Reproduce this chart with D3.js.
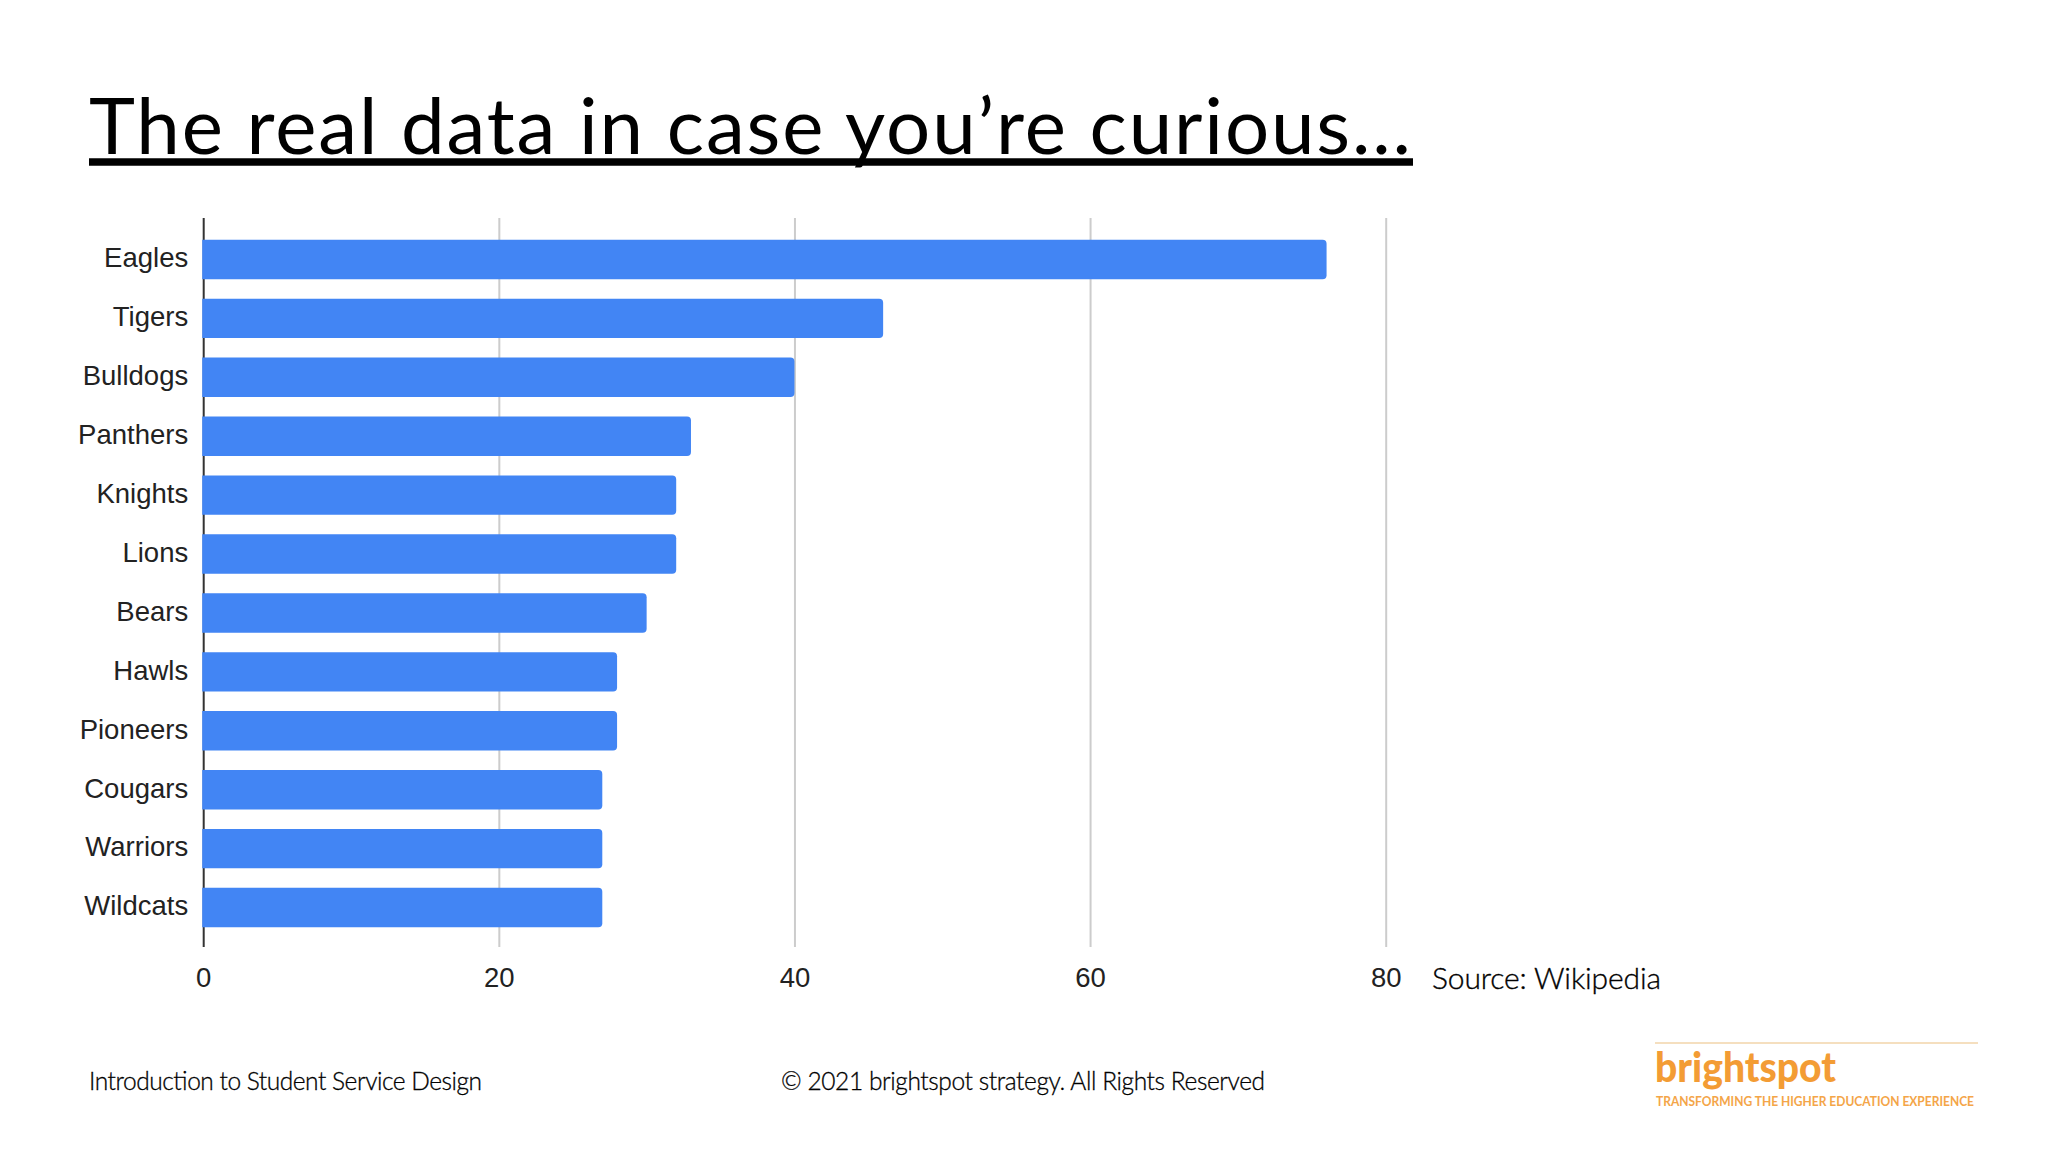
<!DOCTYPE html>
<html>
<head>
<meta charset="utf-8">
<script src="https://cdn.jsdelivr.net/npm/d3@7/dist/d3.min.js"></script>
<style>
html,body{margin:0;padding:0;background:#fff;overflow:hidden}
svg{display:block}
</style>
</head>
<body>
<svg id="chart" width="2048" height="1152"></svg>
<script>
const categories = ["Eagles","Tigers","Bulldogs","Panthers","Knights","Lions","Bears","Hawls","Pioneers","Cougars","Warriors","Wildcats"];
const values = [76,46,40,33,32,32,30,28,28,27,27,27];
const tickValues = [0,20,40,60,80];
const titleText = "The real data in case you\u2019re curious...";
const sourceText = "Source: Wikipedia";
const footerLeft = "Introduction to Student Service Design";
const footerCenter = "\u00A9 2021 brightspot strategy. All Rights Reserved";
const logoName = "brightspot";
const logoTagline = "TRANSFORMING THE HIGHER EDUCATION EXPERIENCE";

const svg = d3.select("#chart");
const x = d3.scaleLinear().domain([0,80]).range([203.2,1385.7]);
const y = d3.scaleBand().domain(categories).range([230,937]).paddingInner(0.33).paddingOuter(0.165);
const plotTop = 218, plotBottom = 947;
const uiFont = "Lato, 'Noto Sans', sans-serif";
const chartFont = "'Liberation Sans', Arial, sans-serif";

// gridlines and value labels
const xAxis = svg.append("g").attr("transform",`translate(0,${plotBottom})`)
  .call(d3.axisBottom(x).tickValues(tickValues).tickSize(-(plotBottom-plotTop)).tickPadding(20).tickFormat(d3.format("d")));
xAxis.select(".domain").remove();
xAxis.selectAll("line").attr("stroke","#cccccc").attr("stroke-width",2);
xAxis.selectAll("line").filter(d=>d===0).attr("stroke","#333333");
xAxis.selectAll("text").attr("font-family",chartFont).attr("font-size",27.5).attr("fill","#222222");

// bars: square at the baseline, rounded at the value end
const r = 4;
svg.append("g").selectAll("path").data(categories).join("path")
  .attr("fill","#4285f4")
  .attr("d",(c,i)=>{
    const p = d3.path(), x0 = x(0)-1, x1 = x(values[i]), t = y(c), b = t+y.bandwidth();
    p.moveTo(x0,t); p.lineTo(x1-r,t); p.arcTo(x1,t,x1,t+r,r);
    p.lineTo(x1,b-r); p.arcTo(x1,b,x1-r,b,r); p.lineTo(x0,b); p.closePath();
    return p.toString();
  });

// category labels
const yAxis = svg.append("g").attr("transform",`translate(${x(0)},-1)`)
  .call(d3.axisLeft(y).tickSize(0).tickPadding(15));
yAxis.select(".domain").remove();
yAxis.selectAll("text").attr("font-family",chartFont).attr("font-size",27.5).attr("fill","#222222");

// title
svg.append("text").attr("x",89).attr("y",154).text(titleText)
  .attr("font-family",uiFont).attr("font-weight",400).attr("font-size",78)
  .attr("textLength",1322).attr("lengthAdjust","spacing").attr("fill","#000");
svg.append("line").attr("x1",89).attr("x2",1413).attr("y1",162).attr("y2",162)
  .attr("stroke","#000").attr("stroke-width",7.5);

// source and footer
svg.append("text").attr("x",1432).attr("y",989).text(sourceText)
  .attr("font-family",uiFont).attr("font-weight",300).attr("font-size",30)
  .attr("textLength",229).attr("lengthAdjust","spacing").attr("fill","#000")
  .attr("stroke","#000").attr("stroke-width",0.35);
svg.append("text").attr("x",89).attr("y",1090).text(footerLeft)
  .attr("font-family",uiFont).attr("font-weight",300).attr("font-size",24.5)
  .attr("textLength",393).attr("lengthAdjust","spacing").attr("fill","#000")
  .attr("stroke","#000").attr("stroke-width",0.3);
svg.append("text").attr("x",781).attr("y",1090).text(footerCenter)
  .attr("font-family",uiFont).attr("font-weight",300).attr("font-size",24.5)
  .attr("textLength",484).attr("lengthAdjust","spacing").attr("fill","#000")
  .attr("stroke","#000").attr("stroke-width",0.3);

// logo
svg.append("line").attr("x1",1655).attr("x2",1978).attr("y1",1043).attr("y2",1043)
  .attr("stroke","#f5dfbf").attr("stroke-width",2);
svg.append("text").attr("x",1655).attr("y",1082).text(logoName)
  .attr("font-family",uiFont).attr("font-weight",900).attr("font-size",41)
  .attr("textLength",181).attr("lengthAdjust","spacingAndGlyphs").attr("fill","#f39c34");
svg.append("text").attr("x",1656).attr("y",1106).text(logoTagline)
  .attr("font-family",uiFont).attr("font-weight",700).attr("font-size",14)
  .attr("textLength",318).attr("lengthAdjust","spacingAndGlyphs").attr("fill","#f4a548");
</script>
</body>
</html>
